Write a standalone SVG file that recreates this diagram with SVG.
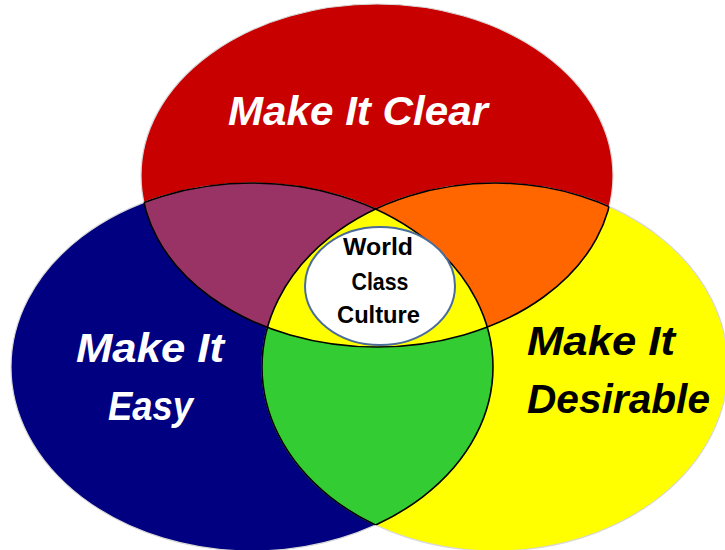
<svg xmlns="http://www.w3.org/2000/svg" width="725" height="550" viewBox="0 0 725 550">
  <style>
    .big { font-family: "Liberation Sans", Arial, sans-serif; font-weight: bold; font-style: italic; font-size: 40px; text-anchor: middle; }
    .core { font-family: "Liberation Sans", Arial, sans-serif; font-weight: bold; font-size: 24px; text-anchor: middle; fill: #000; }
    .edge { fill: none; stroke: #000; stroke-width: 1.6; }
    .rim { stroke: #d8d8d8; stroke-width: 1.2; }
  </style>
  <defs>
    <ellipse id="shpClear" cx="377" cy="175.5" rx="236" ry="171.5"/>
    <ellipse id="shpEasy" cx="252" cy="367" rx="241" ry="184"/>
    <ellipse id="shpDesire" cx="495" cy="367" rx="233" ry="184"/>
    <clipPath id="inEasy"><use href="#shpEasy"/></clipPath>
    <clipPath id="inDesire"><use href="#shpDesire"/></clipPath>
    <clipPath id="inClear"><use href="#shpClear"/></clipPath>
    <clipPath id="notClear"><use href="#shpEasy"/><use href="#shpDesire"/></clipPath>
    <clipPath id="notEasy"><use href="#shpClear"/><use href="#shpDesire"/></clipPath>
    <clipPath id="notDesire"><use href="#shpClear"/><use href="#shpEasy"/></clipPath>
  </defs>

  <rect width="725" height="550" fill="#fff"/>

  <!-- the three sets -->
  <g id="clear">
    <use href="#shpClear" class="rim" fill="#C80000"/>
  </g>
  <g id="easy">
    <use href="#shpEasy" class="rim" fill="#000080"/>
  </g>
  <g id="desirable">
    <use href="#shpDesire" class="rim" fill="#FFFF00"/>
  </g>

  <!-- pairwise overlaps -->
  <g id="clear-easy">
    <use href="#shpClear" fill="#993366" clip-path="url(#inEasy)"/>
  </g>
  <g id="clear-desirable">
    <use href="#shpClear" fill="#FF6600" clip-path="url(#inDesire)"/>
  </g>
  <g id="easy-desirable">
    <use href="#shpEasy" fill="#33CC33" clip-path="url(#inDesire)"/>
  </g>
  <!-- triple overlap -->
  <g id="all-three" clip-path="url(#inEasy)">
    <use href="#shpClear" fill="#FFFF00" clip-path="url(#inDesire)"/>
  </g>

  <!-- interior boundaries -->
  <g id="connectors">
    <use href="#shpClear" class="edge" clip-path="url(#notClear)"/>
    <use href="#shpEasy" class="edge" clip-path="url(#notEasy)"/>
    <use href="#shpDesire" class="edge" clip-path="url(#notDesire)"/>
  </g>

  <!-- centre -->
  <g id="culture">
    <ellipse cx="380" cy="286" rx="75" ry="59" fill="#fff" stroke="#4A6C9B" stroke-width="2"/>
    <text class="core" x="378" y="255" textLength="70" lengthAdjust="spacingAndGlyphs">World</text>
    <text class="core" x="380" y="290" textLength="57" lengthAdjust="spacingAndGlyphs">Class</text>
    <text class="core" x="378.5" y="323" textLength="83" lengthAdjust="spacingAndGlyphs">Culture</text>
  </g>

  <!-- labels -->
  <g id="labels">
    <text class="big" x="358" y="125" fill="#fff" textLength="260" lengthAdjust="spacingAndGlyphs">Make It Clear</text>
    <text class="big" x="150" y="362" fill="#fff" textLength="148" lengthAdjust="spacingAndGlyphs">Make It</text>
    <text class="big" x="150.5" y="420" fill="#fff" textLength="85" lengthAdjust="spacingAndGlyphs">Easy</text>
    <text class="big" x="601" y="355" fill="#000" textLength="148" lengthAdjust="spacingAndGlyphs">Make It</text>
    <text class="big" x="618.5" y="413" fill="#000" textLength="183" lengthAdjust="spacingAndGlyphs">Desirable</text>
  </g>
</svg>
